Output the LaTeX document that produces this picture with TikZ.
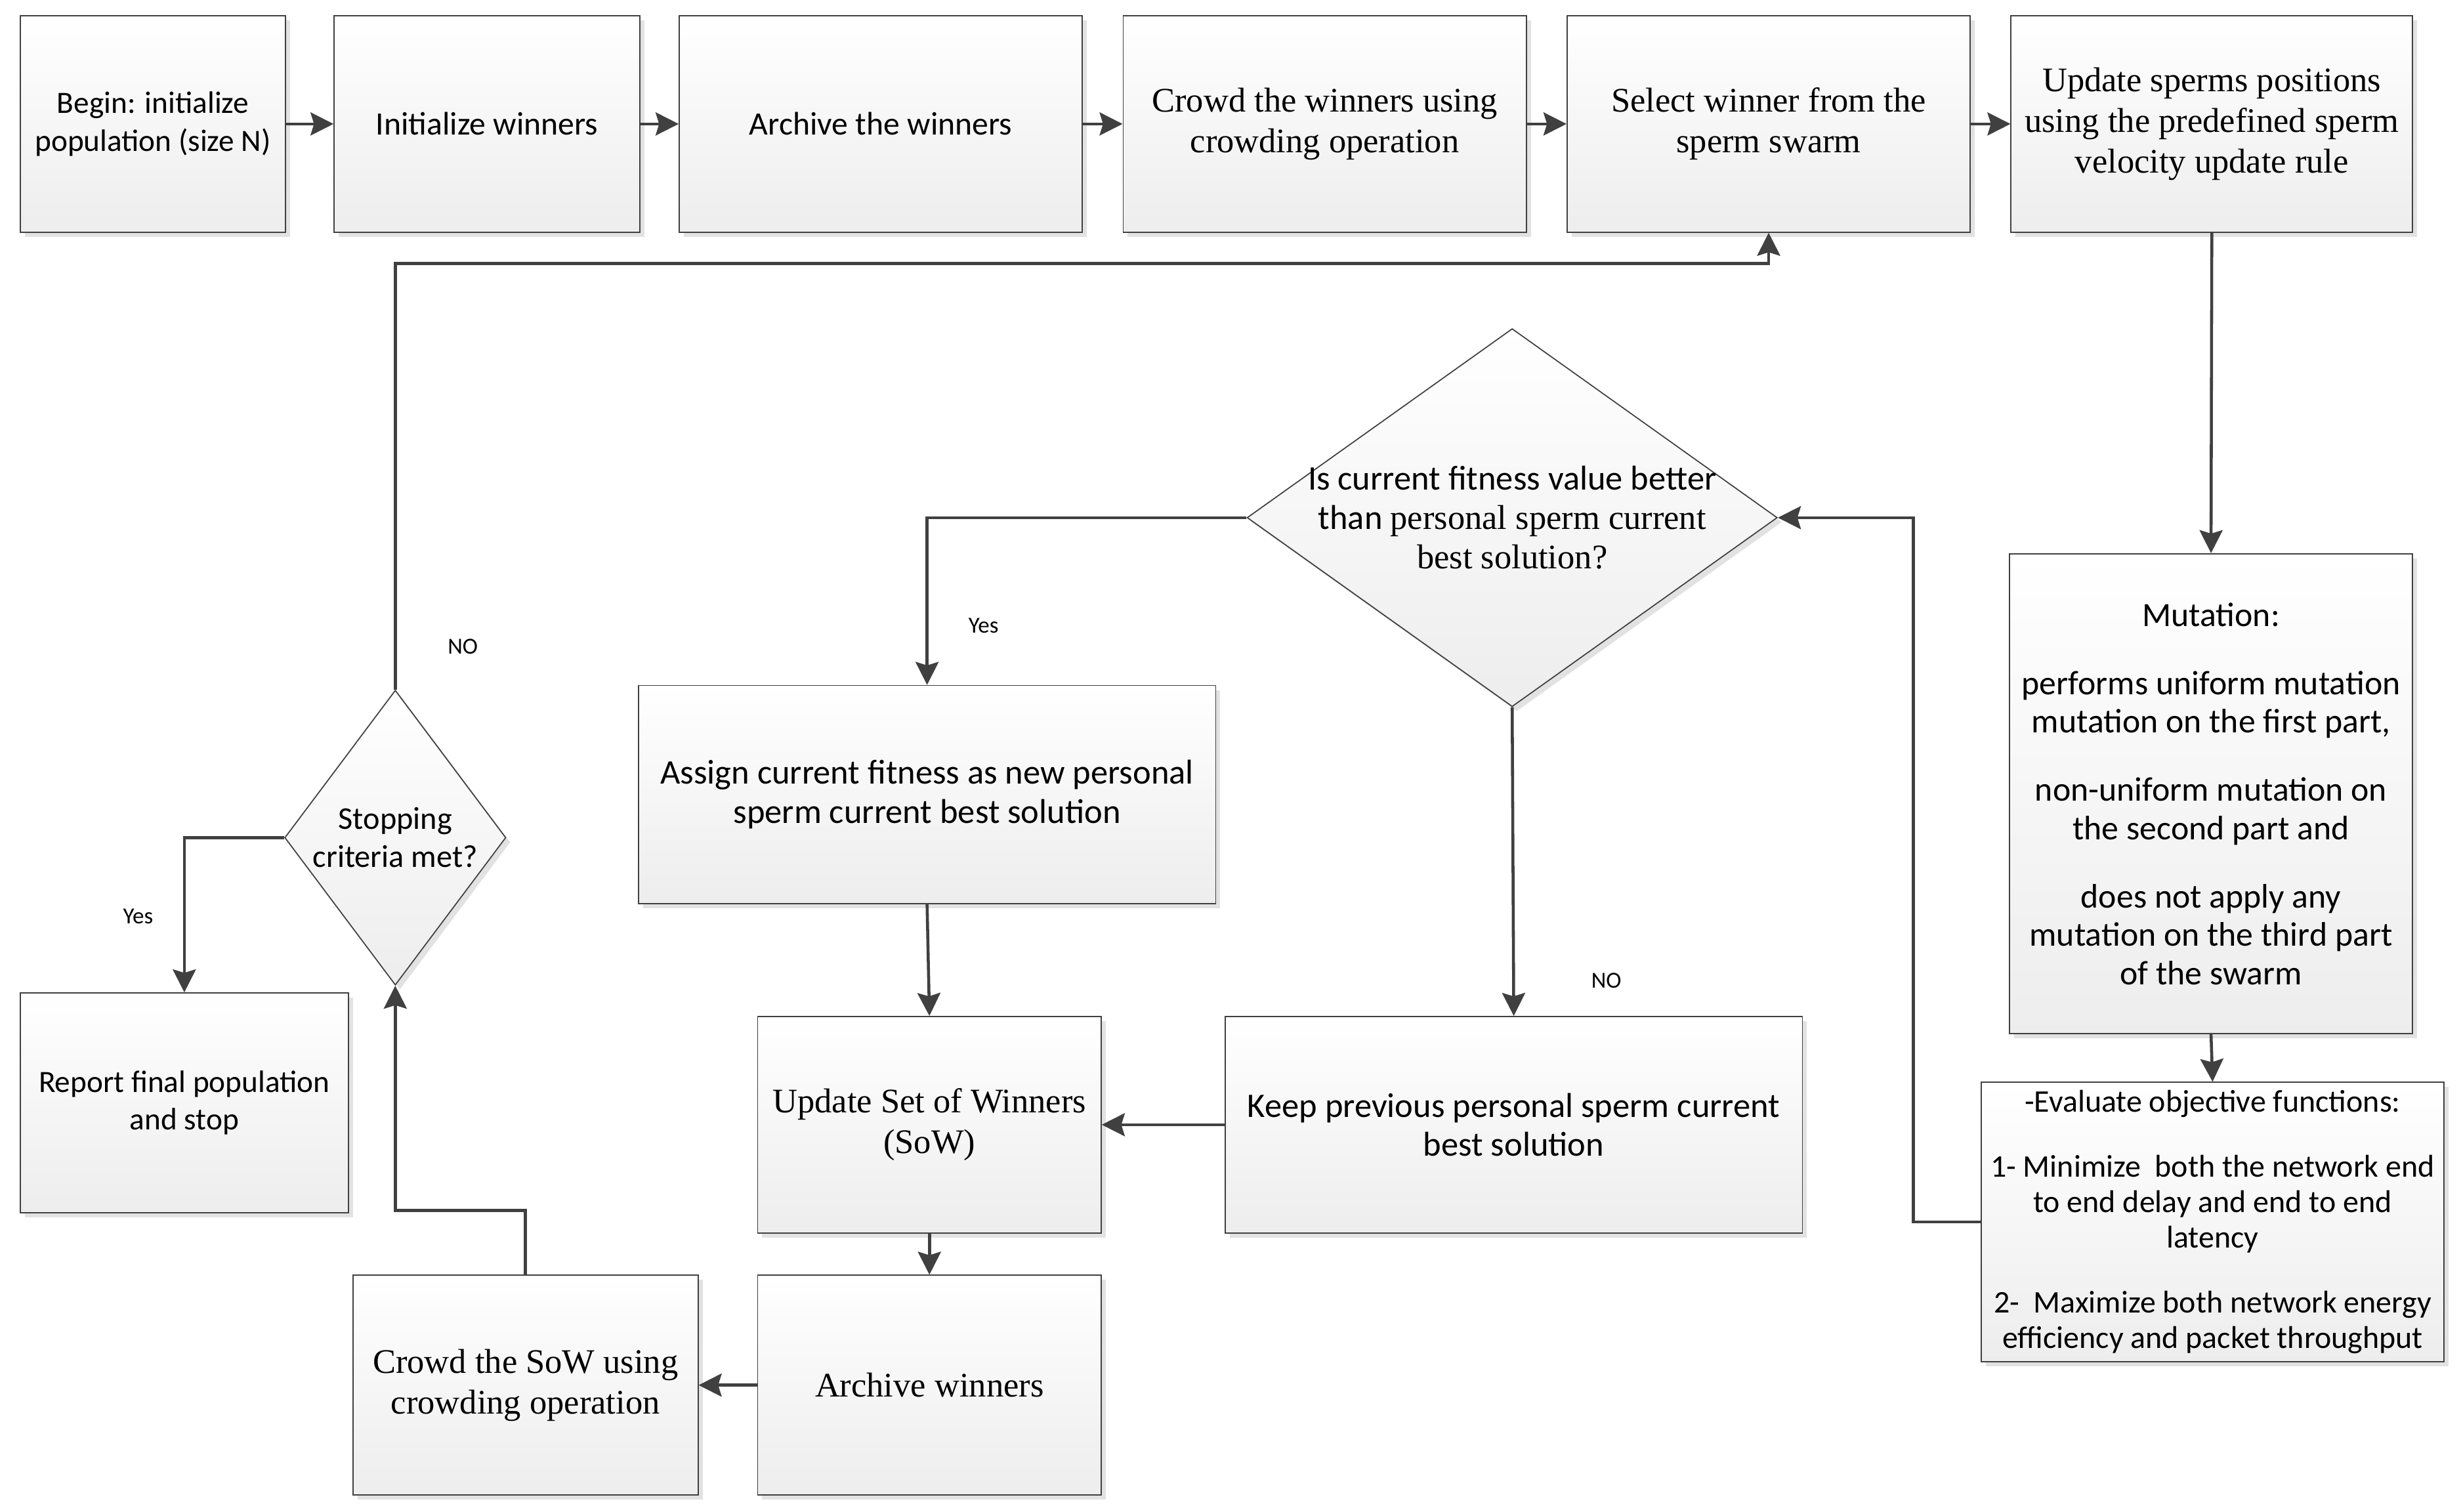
\documentclass[tikz,border=0pt]{standalone}
\usepackage{fontspec}
\setmainfont{Liberation Serif}
\setsansfont{Carlito}
\usetikzlibrary{shapes.geometric,shadows,arrows.meta}
\definecolor{linegray}{HTML}{404040}
\definecolor{shadowgray}{HTML}{E2E2E2}

\begin{document}
\begin{tikzpicture}[x=0.024cm, y=-0.024cm,
	box/.style={draw=linegray, line width=0.5pt, top color=white, bottom color=black!7,
		drop shadow={shadow xshift=0.07cm, shadow yshift=-0.07cm, fill=shadowgray, opacity=1},
		inner sep=0pt, align=center, font=\sffamily\fontsize{13.5}{16.5}\selectfont},
	serifbox/.style={box, font=\rmfamily\fontsize{15}{17.8}\selectfont},
	bigbox/.style={box, font=\sffamily\fontsize{15}{17}\selectfont},
	decision/.style={box, diamond},
	sz/.style 2 args={minimum width=#1*0.024cm, minimum height=#2*0.024cm},
	conn/.style={draw=linegray, line width=1.3pt, -{Stealth[length=10pt, width=10pt, inset=1.5pt]}},
	lbl/.style={font=\sffamily\fontsize{10}{12}\selectfont}]
	\useasboundingbox (0,0) rectangle (1568.86,963.6);

	% top row
	\node[box, sz={169}{138}] (begin) at (97.5,79) {Begin: initialize\\population (size N)};
	\node[box, sz={195}{138}, font=\sffamily\fontsize{14.2}{16.5}\selectfont] (initw) at (310.5,79) {Initialize winners};
	\node[box, sz={257}{138}, font=\sffamily\fontsize{14.2}{16.5}\selectfont] (archw) at (561.5,79) {Archive the winners};
	\node[serifbox, sz={257}{138}] (crowdw) at (844.5,79) {Crowd the winners using\\crowding operation};
	\node[serifbox, sz={257}{138}] (select) at (1127.5,79) {Select winner from the\\sperm swarm};
	\node[serifbox, sz={256}{138}] (update) at (1410,79) {Update sperms positions\\using the predefined sperm\\velocity update rule};

	% right column
	\node[box, sz={257}{306}, font=\sffamily\fontsize{14.8}{16.7}\selectfont] (mutat) at (1409.5,506)
		{Mutation:\\[13pt]performs uniform mutation\\mutation on the first part,\\[13pt]non-uniform mutation on\\the second part and\\[13pt]does not apply any\\mutation on the third part\\of the swarm};
	\node[box, sz={295}{178}, font=\sffamily\fontsize{13.7}{15.4}\selectfont] (evalf) at (1410.5,779)
		{-Evaluate objective functions:\\[13pt]1- Minimize\ \ both the network end\\to end delay and end to end\\latency\\[13pt]2-\ \ Maximize both network energy\\efficiency and packet throughput};

	% middle
	\node[decision, sz={338}{241},
		label={[align=center, font=\sffamily\fontsize{15}{17.2}\selectfont]center:Is current fitness value better\\than {\rmfamily personal sperm current}\\{\rmfamily best solution?}}] (better) at (964,330) {};
	\node[bigbox, sz={368}{139}] (assign) at (591,506.5) {Assign current fitness as new personal\\sperm current best solution};
	\node[bigbox, sz={368}{138}] (keep) at (965,717) {Keep previous personal sperm current\\best solution};
	\node[serifbox, sz={219}{138}] (sow) at (592.5,717) {Update Set of Winners\\(SoW)};
	\node[serifbox, sz={219}{140}] (archsow) at (592.5,883) {Archive winners};
	\node[serifbox, sz={220}{140}] (crowdsow) at (335,883) {Crowd the SoW using\\crowding operation};

	% left
	\node[decision, sz={141}{188},
		label={[align=center, font=\sffamily\fontsize{13.8}{16.5}\selectfont]center:Stopping\\criteria met?}] (stop) at (252,534) {};
	\node[box, sz={209}{140}] (report) at (117.5,703) {Report final population\\and stop};

	\node[lbl] (no1) at (295,412) {NO};
	\node[lbl] (yes1) at (627,399) {Yes};
	\node[lbl] (yes2) at (88,584) {Yes};
	\node[lbl] (no2) at (1024,625) {NO};

	\coordinate (toprail) at (0,168);

	\foreach \a/\b in {begin/initw, initw/archw, archw/crowdw, crowdw/select, select/update}
		\draw[conn] (\a) -- (\b);
	\draw[conn] (update.south) -- (mutat.north);
	\draw[conn] (mutat.south) -- (evalf.north);
	\draw[conn] (evalf.west) -- ++(-43,0) |- (better.east);
	\draw[conn] (better.west) -| (assign.north);
	\draw[conn] (better.south) -- (keep.north);
	\draw[conn] (assign.south) -- (sow.north);
	\draw[conn] (keep.west) -- (sow.east);
	\draw[conn] (sow.south) -- (archsow.north);
	\draw[conn] (archsow.west) -- (crowdsow.east);
	\draw[conn] (crowdsow.north) -- ++(0,-41) -| (stop.south);
	\draw[conn] (stop.north) |- (select.south |- toprail) -- (select.south);
	\draw[conn] (stop.west) -| (report.north);

\end{tikzpicture}
\end{document}
